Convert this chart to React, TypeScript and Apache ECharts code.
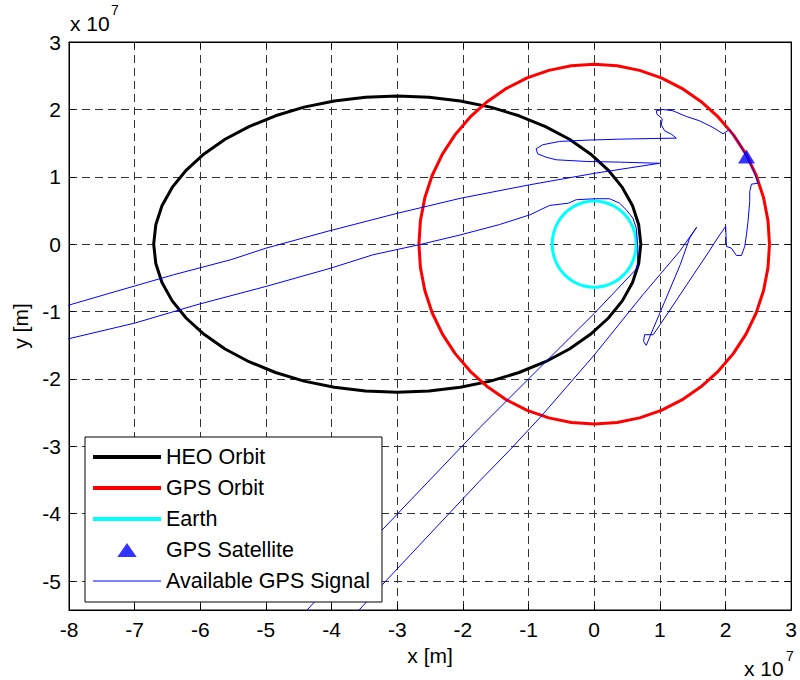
import React, { useEffect, useRef } from "react";
import * as echarts from "echarts";

// ---- data (units of 1e7 m) ----
const xTicks = [-8, -7, -6, -5, -4, -3, -2, -1, 0, 1, 2, 3];
const yTicks = [-5, -4, -3, -2, -1, 0, 1, 2, 3];

const heoOrbit: [number, number][] = [
  [0.71, 0], [0.678, 0.287], [0.584, 0.569], [0.428, 0.842], [0.213, 1.1], [-0.057, 1.339],
  [-0.377, 1.556], [-0.742, 1.745], [-1.145, 1.905], [-1.58, 2.033], [-2.04, 2.125], [-2.516, 2.181],
  [-3.0, 2.2], [-3.484, 2.181], [-3.96, 2.125], [-4.42, 2.033], [-4.855, 1.905], [-5.258, 1.745],
  [-5.623, 1.556], [-5.943, 1.339], [-6.213, 1.1], [-6.428, 0.842], [-6.584, 0.569], [-6.678, 0.287],
  [-6.71, 0], [-6.678, -0.287], [-6.584, -0.569], [-6.428, -0.842], [-6.213, -1.1], [-5.943, -1.339],
  [-5.623, -1.556], [-5.258, -1.745], [-4.855, -1.905], [-4.42, -2.033], [-3.96, -2.125], [-3.484, -2.181],
  [-3.0, -2.2], [-2.516, -2.181], [-2.04, -2.125], [-1.58, -2.033], [-1.145, -1.905], [-0.742, -1.745],
  [-0.377, -1.556], [-0.057, -1.339], [0.213, -1.1], [0.428, -0.842], [0.584, -0.569], [0.678, -0.287],
  [0.71, 0],
];

const gpsOrbit: [number, number][] = [
  [2.67, 0], [2.647, 0.349], [2.579, 0.691], [2.467, 1.022], [2.312, 1.335], [2.118, 1.625],
  [1.888, 1.888], [1.625, 2.118], [1.335, 2.312], [1.022, 2.467], [0.691, 2.579], [0.349, 2.647],
  [0, 2.67], [-0.349, 2.647], [-0.691, 2.579], [-1.022, 2.467], [-1.335, 2.312], [-1.625, 2.118],
  [-1.888, 1.888], [-2.118, 1.625], [-2.312, 1.335], [-2.467, 1.022], [-2.579, 0.691], [-2.647, 0.349],
  [-2.67, 0], [-2.647, -0.349], [-2.579, -0.691], [-2.467, -1.022], [-2.312, -1.335], [-2.118, -1.625],
  [-1.888, -1.888], [-1.625, -2.118], [-1.335, -2.312], [-1.022, -2.467], [-0.691, -2.579], [-0.349, -2.647],
  [0, -2.67], [0.349, -2.647], [0.691, -2.579], [1.022, -2.467], [1.335, -2.312], [1.625, -2.118],
  [1.888, -1.888], [2.118, -1.625], [2.312, -1.335], [2.467, -1.022], [2.579, -0.691], [2.647, -0.349],
  [2.67, 0],
];

const earth: [number, number][] = [
  [0.64, 0], [0.618, 0.166], [0.554, 0.32], [0.453, 0.453], [0.32, 0.554], [0.166, 0.618],
  [0, 0.64], [-0.166, 0.618], [-0.32, 0.554], [-0.453, 0.453], [-0.554, 0.32], [-0.618, 0.166],
  [-0.64, 0], [-0.618, -0.166], [-0.554, -0.32], [-0.453, -0.453], [-0.32, -0.554], [-0.166, -0.618],
  [0, -0.64], [0.166, -0.618], [0.32, -0.554], [0.453, -0.453], [0.554, -0.32], [0.618, -0.166],
  [0.64, 0],
];

const gpsSatellite: [number, number][] = [[2.32, 1.3]];

const gpsSignal: [number, number][] = [
  [-4.12, -6.0], [-3.606, -5.456], [-3.225, -5.053], [-1.75, -3.52], [-1.29, -3.06], [-0.809, -2.556],
  [0.005, -1.641], [0.741, -0.751], [1.301, -0.108], [1.56, 0.25],
  [1.454, 0.089], [1.31, -0.306], [1.075, -0.85], [0.86, -1.344], [0.793, -1.503], [0.752, -1.444],
  [0.767, -1.344], [0.9, -1.344], [1.071, -1.098], [1.41, -0.602], [1.749, -0.108], [1.912, 0.139],
  [2.003, 0.263], [2.014, -0.034], [2.09, -0.06], [2.166, -0.168], [2.243, -0.168], [2.293, -0.034],
  [2.319, 0.139], [2.343, 0.337], [2.369, 0.634], [2.369, 0.782], [2.395, 0.89], [2.496, 0.905],
  [2.42, 1.11], [2.32, 1.3], [2.2, 1.51], [2.06, 1.7], [1.962, 1.638], [1.81, 1.731], [1.606, 1.83],
  [1.403, 1.895], [1.199, 1.979], [1.047, 1.999], [0.946, 1.979], [0.955, 1.929], [1.037, 1.86],
  [1.022, 1.771], [1.072, 1.682], [1.175, 1.632], [1.251, 1.573],
  [0.894, 1.568], [0.386, 1.558], [-0.122, 1.543], [-0.53, 1.524], [-0.784, 1.475], [-0.885, 1.415],
  [-0.86, 1.34], [-0.732, 1.29], [-0.58, 1.252], [-0.122, 1.227], [0.386, 1.217], [0.996, 1.2],
  [0.017, 1.053], [-0.987, 0.88], [-2.03, 0.682], [-2.99, 0.46], [-4.07, 0.188], [-5.0, -0.06],
  [-5.53, -0.23], [-6.405, -0.454], [-7.28, -0.7], [-8.16, -0.95], [-8.6, -1.07],
  [-8.6, -1.55], [-8.16, -1.44], [-6.99, -1.17], [-6.055, -0.9], [-5.0, -0.628], [-4.01, -0.356],
  [-3.37, -0.158], [-2.67, -0.01], [-2.03, 0.139], [-1.445, 0.29], [-0.976, 0.436], [-0.682, 0.574],
  [-0.392, 0.608], [-0.275, 0.659], [0.017, 0.674], [0.233, 0.674], [0.386, 0.608], [0.488, 0.51],
  [0.589, 0.386], [0.641, 0.237], [0.665, -0.06], [0.655, -0.356],
  [0.005, -1.024], [-0.732, -1.74], [-1.75, -2.73], [-3.225, -4.237], [-4.394, -5.45], [-4.93, -6.0],
];

const legendNames = ["HEO Orbit", "GPS Orbit", "Earth", "GPS Satellite", "Available GPS Signal"];

const FONT_FAMILY = "Arial, 'Liberation Sans', sans-serif";

export default function App() {
  const ref = useRef<HTMLDivElement>(null);

  useEffect(() => {
    if (!ref.current) return;
    const chart = echarts.init(ref.current, undefined, { renderer: "svg" });
    const tickStyle = { color: "#000", width: 1 };
    const gridLine = { show: true, lineStyle: { color: "#333", type: [8, 5] as any, width: 1 } };
    const thickIcon = "path://M0,0H68V4H0Z";
    const thinIcon = "path://M0,0H68V1.2H0Z";
    const triIcon = "path://M9,0L18,13L0,13Z";
    chart.setOption({
      animation: false,
      backgroundColor: "#fff",
      grid: {
        left: 69, right: 8, top: 42, bottom: 70,
        show: true, borderColor: "#000", borderWidth: 1, backgroundColor: "transparent",
      },
      xAxis: [
        {
          type: "value", min: -8, max: 3, interval: 1, position: "bottom",
          axisLine: { show: true, onZero: false, lineStyle: tickStyle },
          axisTick: { show: true, inside: true, length: 6, lineStyle: tickStyle },
          axisLabel: { color: "#000", fontSize: 21, fontFamily: FONT_FAMILY, margin: 9, customValues: xTicks },
          splitLine: gridLine,
          name: "x [m]", nameLocation: "middle", nameGap: 34,
          nameTextStyle: { color: "#000", fontSize: 21, fontFamily: FONT_FAMILY },
        },
        {
          type: "value", min: -8, max: 3, interval: 1, position: "top",
          axisLine: { show: true, onZero: false, lineStyle: tickStyle },
          axisTick: { show: true, inside: true, length: 6, lineStyle: tickStyle },
          axisLabel: { show: false },
          splitLine: { show: false },
        },
      ],
      yAxis: [
        {
          type: "value", min: -5.43, max: 3, position: "left",
          axisLine: { show: true, onZero: false, lineStyle: tickStyle },
          axisTick: { show: true, inside: true, length: 6, lineStyle: tickStyle, customValues: yTicks },
          axisLabel: { color: "#000", fontSize: 21, fontFamily: FONT_FAMILY, margin: 8, customValues: yTicks },
          splitLine: gridLine,
          name: "y [m]", nameLocation: "middle", nameGap: 34, nameRotate: 90,
          nameTextStyle: { color: "#000", fontSize: 21, fontFamily: FONT_FAMILY },
        },
        {
          type: "value", min: -5.43, max: 3, position: "right",
          axisLine: { show: true, onZero: false, lineStyle: tickStyle },
          axisTick: { show: true, inside: true, length: 6, lineStyle: tickStyle, customValues: yTicks },
          axisLabel: { show: false, customValues: yTicks },
          splitLine: { show: false },
        },
      ],
      legend: {
        orient: "vertical", left: 85, top: 437,
        data: [
          { name: legendNames[0], icon: thickIcon },
          { name: legendNames[1], icon: thickIcon },
          { name: legendNames[2], icon: thickIcon },
          { name: legendNames[3], icon: triIcon },
          { name: legendNames[4], icon: thinIcon },
        ],
        itemWidth: 68, itemHeight: 14, itemGap: 9,
        symbolKeepAspect: true,
        padding: [9, 12, 10, 8],
        backgroundColor: "#fff", borderColor: "#000", borderWidth: 1, borderRadius: 0,
        textStyle: { fontSize: 21.5, fontFamily: FONT_FAMILY, color: "#000", lineHeight: 21 },
        selectedMode: false,
      },
      graphic: [
        { type: "text", x: 70, y: 23, style: { text: "x 10", font: "21px " + FONT_FAMILY, fill: "#000", verticalAlign: "middle", align: "left" } },
        { type: "text", x: 111, y: 10, style: { text: "7", font: "14px " + FONT_FAMILY, fill: "#000", verticalAlign: "middle", align: "left" } },
        { type: "text", x: 744, y: 668, style: { text: "x 10", font: "21px " + FONT_FAMILY, fill: "#000", verticalAlign: "middle", align: "left" } },
        { type: "text", x: 786, y: 656, style: { text: "7", font: "14px " + FONT_FAMILY, fill: "#000", verticalAlign: "middle", align: "left" } },
      ],
      series: [
        {
          name: "HEO Orbit", type: "line", data: heoOrbit, symbol: "none",
          lineStyle: { color: "#000", width: 3 }, itemStyle: { color: "#000" }, z: 2,
        },
        {
          name: "GPS Orbit", type: "line", data: gpsOrbit, symbol: "none",
          lineStyle: { color: "#ff0000", width: 3 }, itemStyle: { color: "#ff0000" }, z: 2,
        },
        {
          name: "Earth", type: "line", data: earth, smooth: 0.4, symbol: "none",
          lineStyle: { color: "#00ffff", width: 3 }, itemStyle: { color: "#00ffff" }, z: 2,
        },
        {
          name: "GPS Satellite", type: "scatter", data: gpsSatellite, symbol: "triangle",
          symbolSize: [17, 14], symbolKeepAspect: true, itemStyle: { color: "#0000ff" }, z: 3,
        },
        {
          name: "Available GPS Signal", type: "line", data: gpsSignal, symbol: "none",
          lineStyle: { color: "#0000ff", width: 1 }, itemStyle: { color: "#0000ff" }, z: 3,
        },
      ],
    });
    return () => chart.dispose();
  }, []);

  return (
    <div
      ref={ref}
      style={{ position: "absolute", left: 0, top: 0, width: 800, height: 680 }}
    />
  );
}
